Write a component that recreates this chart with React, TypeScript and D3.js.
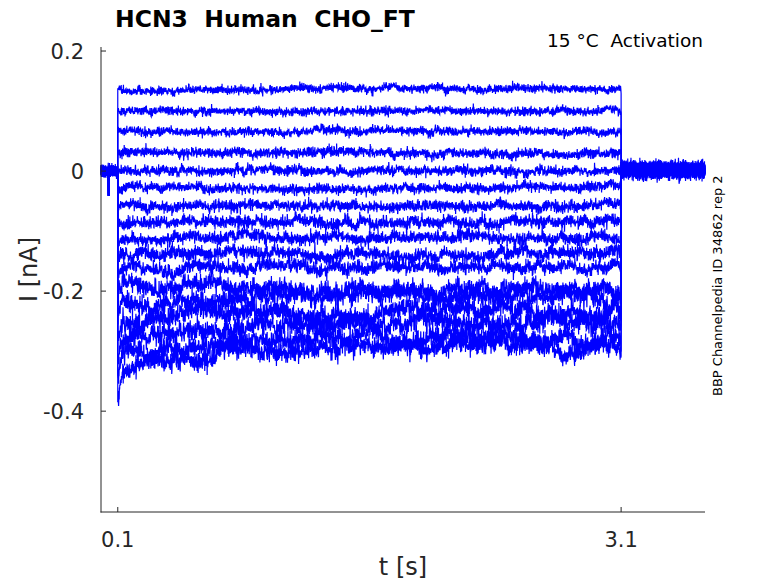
import React, { useRef, useEffect } from 'react';
import * as d3 from 'd3';

// step protocol (s)
const pulseStart = 0.1;
const pulseEnd = 3.1;
const xTicks = [0.1, 3.1];
const yTicks = [0.2, 0, -0.2, -0.4];

// slow level of each sweep during the pulse, read at these times (nA)
const knotTimes = [0.1, 0.3, 0.6, 1.0, 1.5, 2.0, 2.5, 3.1];
const sweepLevels: number[][] = [
  [0.135, 0.135, 0.136, 0.137, 0.138, 0.138, 0.137, 0.136],
  [0.100, 0.100, 0.100, 0.099, 0.100, 0.101, 0.100, 0.100],
  [0.066, 0.066, 0.065, 0.066, 0.067, 0.066, 0.066, 0.066],
  [0.030, 0.030, 0.031, 0.030, 0.031, 0.031, 0.028, 0.030],
  [0.000, -0.001, 0.000, 0.001, 0.000, -0.001, 0.000, 0.000],
  [-0.028, -0.028, -0.028, -0.030, -0.030, -0.029, -0.028, -0.026],
  [-0.058, -0.060, -0.057, -0.058, -0.060, -0.058, -0.058, -0.057],
  [-0.088, -0.086, -0.083, -0.085, -0.087, -0.085, -0.087, -0.085],
  [-0.115, -0.112, -0.110, -0.110, -0.113, -0.110, -0.112, -0.110],
  [-0.140, -0.140, -0.135, -0.135, -0.140, -0.140, -0.137, -0.135],
  [-0.160, -0.165, -0.160, -0.155, -0.160, -0.158, -0.160, -0.160],
  [-0.185, -0.195, -0.190, -0.195, -0.200, -0.200, -0.195, -0.200],
  [-0.215, -0.225, -0.215, -0.215, -0.205, -0.210, -0.205, -0.210],
  [-0.250, -0.245, -0.230, -0.240, -0.240, -0.225, -0.235, -0.240],
  [-0.280, -0.275, -0.265, -0.260, -0.255, -0.250, -0.255, -0.260],
  [-0.300, -0.300, -0.290, -0.280, -0.275, -0.280, -0.275, -0.280],
  [-0.335, -0.320, -0.305, -0.300, -0.295, -0.290, -0.290, -0.290],
];
// first sample after the step (capacitive transient), nA
const onsetPeaks = [0.138, 0.102, 0.068, 0.032, 0.0, -0.03, -0.06, -0.09, -0.12, -0.145, -0.17, -0.2, -0.24, -0.28, -0.31, -0.34, -0.385];
// recording noise of each sweep (nA): fast / slow
const fastNoise = [0.0035, 0.0035, 0.0035, 0.004, 0.004, 0.004, 0.0045, 0.005, 0.005, 0.0055, 0.0055, 0.007, 0.007, 0.008, 0.008, 0.008, 0.008];
const slowNoise = [0.0015, 0.0015, 0.0015, 0.002, 0.002, 0.002, 0.0025, 0.003, 0.003, 0.0035, 0.0035, 0.005, 0.006, 0.006, 0.006, 0.006, 0.006];
// holding-current artefact before the step
const holdSpike = { t: 0.045, value: -0.04 };
const holdLevel = 0.0;
const tailLevel = 0.002;
const tailNoise = 0.006;

const W = 778;
const H = 583;
const margin = { left: 101, right: 73, top: 47, bottom: 71 };
const axisColor = '#262626';
const font = 'DejaVu Sans, sans-serif';

const App: React.FC = () => {
  const svgRef = useRef<SVGSVGElement | null>(null);

  useEffect(() => {
    document.body.style.margin = '0';
    if (!svgRef.current) return;
    const svg = d3.select(svgRef.current);
    svg.selectAll('*').remove();

    const x = d3.scaleLinear().domain([0, 3.6]).range([margin.left, W - margin.right]);
    const y = d3.scaleLinear().domain([-0.568, 0.2067]).range([H - margin.bottom, margin.top]);

    // noise texture (seeded so the picture is stable)
    const lcg = d3.randomLcg(0.4242);
    const gauss = d3.randomNormal.source(lcg)(0, 1);

    const dt = 3.6 / 3000;
    const line = d3.line<[number, number]>().x(d => x(d[0])).y(d => y(d[1]));
    const g = svg.append('g');

    sweepLevels.forEach((levels, i) => {
      const level = d3.scaleLinear().domain(knotTimes).range(levels);
      const pts: [number, number][] = [];
      let w = 0;
      for (let t = 0; t < pulseStart; t += dt) {
        let v = holdLevel + gauss() * 0.004;
        if (Math.abs(t - holdSpike.t) < dt * 1.5) v = holdSpike.value;
        pts.push([t, v]);
      }
      pts.push([pulseStart, onsetPeaks[i]]);
      for (let t = pulseStart + dt; t <= pulseEnd; t += dt) {
        w = 0.97 * w + gauss() * slowNoise[i] * 0.25;
        const decay = Math.max(0, 1 - (t - pulseStart) / 0.03);
        const base = level(t) + (onsetPeaks[i] - levels[0]) * decay;
        pts.push([t, base + w + gauss() * fastNoise[i]]);
      }
      pts.push([pulseEnd, tailLevel + 0.012]);
      for (let t = pulseEnd + dt; t <= 3.6; t += dt) {
        pts.push([t, tailLevel + gauss() * tailNoise]);
      }
      g.append('path')
        .attr('d', line(pts))
        .attr('fill', 'none')
        .attr('stroke', '#0000ff')
        .attr('stroke-width', 1.2);
    });

    // axes (box off, ticks inward)
    const ax = svg.append('g').attr('stroke', axisColor).attr('stroke-width', 1).attr('fill', 'none');
    ax.append('line').attr('x1', x(0)).attr('x2', x(0)).attr('y1', y.range()[1]).attr('y2', y.range()[0] + 0.5);
    ax.append('line').attr('x1', x(0) - 0.5).attr('x2', x(3.6)).attr('y1', y.range()[0]).attr('y2', y.range()[0]);
    yTicks.forEach(v => {
      ax.append('line').attr('x1', x(0)).attr('x2', x(0) + 5).attr('y1', y(v)).attr('y2', y(v));
    });
    xTicks.forEach(v => {
      ax.append('line').attr('x1', x(v)).attr('x2', x(v)).attr('y1', y.range()[0]).attr('y2', y.range()[0] - 5);
    });

    const txt = svg.append('g').attr('font-family', font).attr('fill', axisColor);
    yTicks.forEach(v => {
      txt.append('text')
        .attr('x', x(0) - 17)
        .attr('y', y(v) + 7.5)
        .attr('text-anchor', 'end')
        .attr('font-size', 21)
        .text(v === 0 ? '0' : String(v));
    });
    xTicks.forEach(v => {
      txt.append('text')
        .attr('x', x(v))
        .attr('y', y.range()[0] + 35)
        .attr('text-anchor', 'middle')
        .attr('font-size', 21)
        .text(String(v));
    });
    txt.append('text')
      .attr('x', (x(0) + x(3.6)) / 2)
      .attr('y', 575)
      .attr('text-anchor', 'middle')
      .attr('font-size', 24)
      .text('t [s]');
    txt.append('text')
      .attr('transform', `translate(37,${(y.range()[0] + y.range()[1]) / 2 - 10}) rotate(-90)`)
      .attr('text-anchor', 'middle')
      .attr('font-size', 24)
      .text('I [nA]');

    svg.append('text')
      .attr('x', 115)
      .attr('y', 27)
      .attr('font-family', font)
      .attr('font-weight', 'bold')
      .attr('font-size', 23.5)
      .attr('fill', '#000')
      .style('white-space', 'pre')
      .text('HCN3  Human  CHO_FT');
    svg.append('text')
      .attr('x', 703)
      .attr('y', 47)
      .attr('text-anchor', 'end')
      .attr('font-family', font)
      .attr('font-size', 18.5)
      .attr('fill', '#000')
      .style('white-space', 'pre')
      .text('15 °C  Activation');
    svg.append('text')
      .attr('transform', 'translate(722,396) rotate(-90)')
      .attr('font-family', font)
      .attr('font-size', 13)
      .attr('fill', '#000')
      .text('BBP Channelpedia ID 34862 rep 2');
  }, []);

  return <svg ref={svgRef} width={W} height={H} style={{ display: 'block', background: '#fff' }} />;
};

export default App;
